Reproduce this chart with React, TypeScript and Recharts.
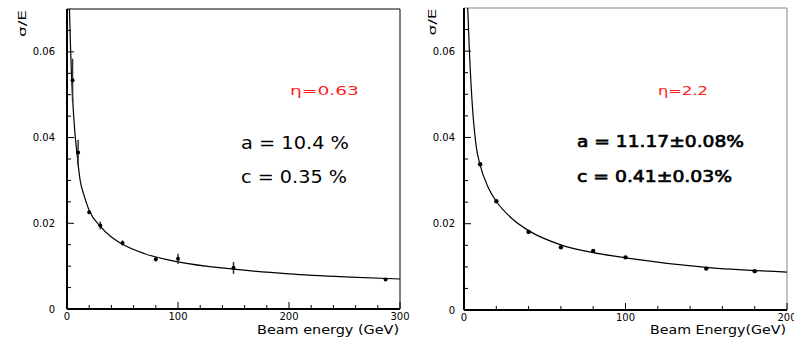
import React from "react";
import {
  ComposedChart,
  Line,
  Scatter,
  XAxis,
  YAxis,
  ErrorBar,
  ReferenceLine,
} from "recharts";

// eta = 0.63 measurements
const LOW_ENERGY = [5, 10, 20, 30, 50, 80, 100, 150, 287];
const LOW_RES = [0.0534, 0.0365, 0.0226, 0.0195, 0.0154, 0.0116, 0.0117, 0.0096, 0.0069];
const LOW_ERR = [0.005, 0.003, 0.0004, 0.0009, 0.0006, 0.0005, 0.0012, 0.0014, 0.0002];

// eta = 0.63 fitted curve
const LOW_FIT_E = [2.2, 3, 4, 5, 7, 9, 12, 15, 20, 30, 40, 50, 70, 100, 150, 200, 250, 300];
const LOW_FIT = [
  0.07, 0.0625, 0.055, 0.0495, 0.0415, 0.0362, 0.0298, 0.0268, 0.023, 0.0193, 0.0168,
  0.0151, 0.0129, 0.011, 0.0093, 0.0082, 0.0075, 0.007,
];

// eta = 2.2 measurements
const HIGH_ENERGY = [10, 20, 40, 60, 80, 100, 150, 180];
const HIGH_RES = [0.0338, 0.0252, 0.0181, 0.01455, 0.0137, 0.0122, 0.0096, 0.009];

// eta = 2.2 fitted curve
const HIGH_FIT_E = [2.3, 3.3, 5, 7.6, 10, 15, 20, 30, 40, 60, 80, 100, 150, 200];
const HIGH_FIT = [
  0.07, 0.0603, 0.0483, 0.0378, 0.0336, 0.0284, 0.0252, 0.0211, 0.0184, 0.0151, 0.0133,
  0.0121, 0.0099, 0.0088,
];

const Y_TICKS = [0, 0.005, 0.01, 0.015, 0.02, 0.025, 0.03, 0.035, 0.04, 0.045, 0.05, 0.055, 0.06, 0.065];
const Y_LABELED = [0, 0.02, 0.04, 0.06];
const LOW_X_TICKS = [0, 20, 40, 60, 80, 100, 120, 140, 160, 180, 200, 220, 240, 260, 280, 300];
const LOW_X_LABELED = [0, 100, 200, 300];
const HIGH_X_TICKS = [0, 20, 40, 60, 80, 100, 120, 140, 160, 180, 200];
const HIGH_X_LABELED = [0, 100, 200];

const FONT = "DejaVu Sans, sans-serif";

const near = (list: number[], v: number) => list.some((m) => Math.abs(m - v) < 1e-9);

const zip = (xs: number[], ys: number[], errs?: number[]) =>
  xs.map((x, i) => ({ x, y: ys[i], err: errs ? errs[i] : 0 }));

function makeYTick(gap: number) {
  return (props: any) => {
    const { x, y, payload } = props;
    const v = payload.value;
    const major = near(Y_LABELED, v);
    return (
      <g>
        <line x1={x} x2={x + (major ? 7 : 4)} y1={y} y2={y} stroke="#000" strokeWidth={1} />
        {major && (
          <text x={x - gap} y={y + 3.5} textAnchor="end" fontSize={10} fontFamily={FONT} fill="#000">
            {v === 0 ? "0" : v.toFixed(2)}
          </text>
        )}
      </g>
    );
  };
}

function makeXTick(labeled: number[]) {
  return (props: any) => {
    const { x, y, payload } = props;
    const v = payload.value;
    const major = near(labeled, v);
    return (
      <g>
        <line x1={x} x2={x} y1={y} y2={y - (major ? 7 : 4)} stroke="#000" strokeWidth={1} />
        {major && (
          <text x={x} y={y + 10.5} textAnchor="middle" fontSize={10} fontFamily={FONT} fill="#000">
            {v}
          </text>
        )}
      </g>
    );
  };
}

function Stretch({ x, y, len, size, children, fill = "#000", thick = 0, anchor = "start" }: any) {
  return (
    <text
      x={x}
      y={y}
      fontSize={size}
      fontFamily={FONT}
      fill={fill}
      stroke={thick ? fill : "none"}
      strokeWidth={thick}
      textAnchor={anchor}
      textLength={len}
      lengthAdjust="spacingAndGlyphs"
    >
      {children}
    </text>
  );
}

function LowPanel() {
  const points = zip(LOW_ENERGY, LOW_RES, LOW_ERR);
  const fit = zip(LOW_FIT_E, LOW_FIT);
  return (
    <ComposedChart width={420} height={342} margin={{ top: 9, right: 20, bottom: 32, left: 0 }}>
      <XAxis
        dataKey="x"
        type="number"
        height={1}
        domain={[0, 300]}
        ticks={LOW_X_TICKS}
        interval={0}
        allowDataOverflow
        tickSize={0}
        tickMargin={0}
        tickLine={false}
        tick={makeXTick(LOW_X_LABELED)}
        axisLine={{ stroke: "#000", strokeWidth: 2 }}
      />
      <YAxis
        dataKey="y"
        type="number"
        width={67}
        domain={[0, 0.07]}
        ticks={Y_TICKS}
        interval={0}
        allowDataOverflow
        tickSize={0}
        tickMargin={0}
        tickLine={false}
        tick={makeYTick(12)}
        axisLine={{ stroke: "#000", strokeWidth: 2 }}
      />
      <ReferenceLine y={0.07} stroke="#000" strokeWidth={1} />
      <ReferenceLine x={300} stroke="#000" strokeWidth={1} />
      <Line
        data={fit}
        dataKey="y"
        type="monotone"
        dot={false}
        stroke="#000"
        strokeWidth={1.2}
        isAnimationActive={false}
      />
      <Scatter
        data={points}
        dataKey="y"
        fill="#000"
        isAnimationActive={false}
        shape={(p: any) => <circle cx={p.cx} cy={p.cy} r={2} fill="#000" />}
      >
        <ErrorBar dataKey="err" direction="y" width={0} stroke="#333" strokeWidth={1.5} />
      </Scatter>
      <text
        x={22}
        y={23.5}
        transform="rotate(-90 22 23.5)"
        textAnchor="middle"
        dominantBaseline="central"
        fontSize={11}
        fontFamily={FONT}
        textLength={27}
        lengthAdjust="spacingAndGlyphs"
      >
        σ/E
      </text>
      <Stretch x={399} y={334} len={142} size={12} anchor="end">
        Beam energy (GeV)
      </Stretch>
      <Stretch x={290} y={95} len={69} size={12} fill="#ff2020">
        η=0.63
      </Stretch>
      <Stretch x={241} y={149} len={108} size={18}>
        a = 10.4 %
      </Stretch>
      <Stretch x={241} y={183} len={106} size={18}>
        c = 0.35 %
      </Stretch>
    </ComposedChart>
  );
}

function HighPanel() {
  const points = zip(HIGH_ENERGY, HIGH_RES);
  const fit = zip(HIGH_FIT_E, HIGH_FIT);
  return (
    <ComposedChart width={394} height={342} margin={{ top: 8, right: 7, bottom: 31, left: 0 }}>
      <XAxis
        dataKey="x"
        type="number"
        height={1}
        domain={[0, 200]}
        ticks={HIGH_X_TICKS}
        interval={0}
        allowDataOverflow
        tickSize={0}
        tickMargin={0}
        tickLine={false}
        tick={makeXTick(HIGH_X_LABELED)}
        axisLine={{ stroke: "#000", strokeWidth: 2 }}
      />
      <YAxis
        dataKey="y"
        type="number"
        width={64}
        domain={[0, 0.07]}
        ticks={Y_TICKS}
        interval={0}
        allowDataOverflow
        tickSize={0}
        tickMargin={0}
        tickLine={false}
        tick={makeYTick(9)}
        axisLine={{ stroke: "#000", strokeWidth: 2 }}
      />
      <ReferenceLine y={0.07} stroke="#888" strokeWidth={1} />
      <ReferenceLine x={200} stroke="#888" strokeWidth={1} />
      <Line
        data={fit}
        dataKey="y"
        type="monotone"
        dot={false}
        stroke="#000"
        strokeWidth={1.2}
        isAnimationActive={false}
      />
      <Scatter
        data={points}
        dataKey="y"
        fill="#000"
        isAnimationActive={false}
        shape={(p: any) => <circle cx={p.cx} cy={p.cy} r={2.2} fill="#000" />}
      />
      <text
        x={32}
        y={22}
        transform="rotate(-90 32 22)"
        textAnchor="middle"
        dominantBaseline="central"
        fontSize={11}
        fontFamily={FONT}
        textLength={27}
        lengthAdjust="spacingAndGlyphs"
      >
        σ/E
      </text>
      <Stretch x={386} y={334} len={136} size={12} anchor="end">
        Beam Energy(GeV)
      </Stretch>
      <Stretch x={258} y={95} len={50} size={12} fill="#ff2020">
        η=2.2
      </Stretch>
      <Stretch x={177} y={147} len={167} size={16.5} thick={0.7}>
        a = 11.17±0.08%
      </Stretch>
      <Stretch x={177} y={181.5} len={155} size={16.5} thick={0.7}>
        c = 0.41±0.03%
      </Stretch>
    </ComposedChart>
  );
}

export default function App() {
  return (
    <div
      style={{
        position: "fixed",
        left: 0,
        top: 0,
        width: 794,
        height: 342,
        background: "#fff",
        overflow: "hidden",
      }}
    >
      <div style={{ position: "absolute", left: 0, top: 0 }}>
        <LowPanel />
      </div>
      <div style={{ position: "absolute", left: 400, top: 0 }}>
        <HighPanel />
      </div>
    </div>
  );
}
